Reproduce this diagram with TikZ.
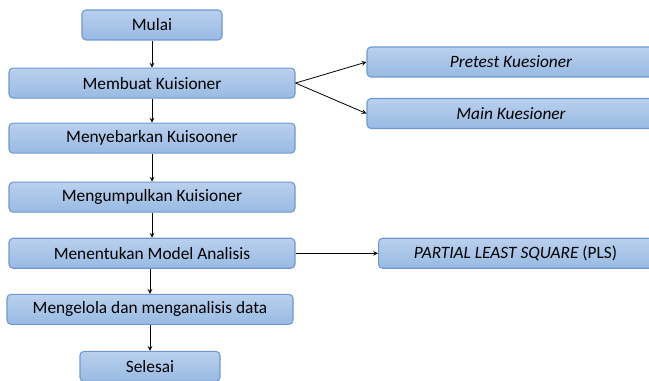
\documentclass[tikz,border=0pt]{standalone}
\usepackage{fontspec}
\setmainfont{Carlito}
\usepackage{tikz}
\usetikzlibrary{shapes.geometric, arrows, calc, positioning, arrows.meta}
\definecolor{boxtop}{RGB}{186,208,237}
\definecolor{boxbot}{RGB}{152,186,227}
\definecolor{boxline}{RGB}{108,153,214}
\tikzstyle{base} = [rectangle, rounded corners=3pt, draw=boxline, line width=0.8pt, top color=boxtop, bottom color=boxbot, minimum height=22.5pt, inner sep=0pt, text centered, font=\fontsize{13}{15}\selectfont]
\tikzstyle{startstop} = [base, minimum width=105pt]
\tikzstyle{process} = [base, minimum width=214.5pt]
\tikzstyle{side} = [base, minimum width=216pt]
\tikzstyle{arrow} = [->,>=stealth, line width=0.6pt]

\begin{document}
\begin{tikzpicture}[x=0.75pt, y=-0.75pt, node distance=18.75pt, auto]
	\useasboundingbox (0,0) rectangle (649,381);
	% main column
	\node (mulai) [startstop] at (152,25) {Mulai};
	\node (membuat) [process, below=20.25pt of mulai] {Membuat Kuisioner};
	\node (sebar) [process, below=18pt of membuat] {Menyebarkan Kuisooner};
	\node (kumpul) [process, below=21pt of sebar] {Mengumpulkan Kuisioner};
	\node (model) [process, below=of kumpul] {Menentukan Model Analisis};
	\node (olah) [process, below=of model, xshift=-1.5pt] {Mengelola dan menganalisis data};
	\node (selesai) [startstop, below=19.5pt of olah] {Selesai};
	% branches on the right
	\node (pretest) [side] at (511,62) {\itshape Pretest Kuesioner};
	\node (main) [side] at (511,113.5) {\itshape Main Kuesioner};
	\node (pls) [side, minimum width=205.5pt, anchor=west] at (model.east -| 378,0) {\itshape PARTIAL LEAST SQUARE \upshape(PLS)};

	\draw [arrow] (mulai) -- (membuat);
	\draw [arrow] (membuat) -- (sebar);
	\draw [arrow] (sebar) -- (kumpul);
	\draw [arrow] (kumpul) -- (model);
	\draw [arrow] (model.south -| olah) -- (olah);
	\draw [arrow] (olah) -- (selesai);
	\draw [arrow] (membuat.east) -- (pretest.west);
	\draw [arrow] (membuat.east) -- (main.west);
	\draw [arrow] (model.east) -- (pls.west);
\end{tikzpicture}
\end{document}
